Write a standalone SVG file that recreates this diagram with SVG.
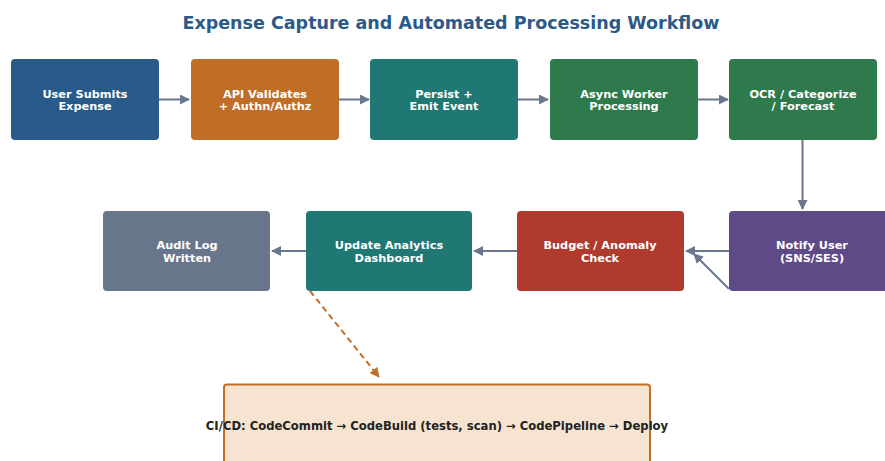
<svg xmlns="http://www.w3.org/2000/svg" width="885" height="461" viewBox="0 0 885 461">
<style>
.t{font-family:"DejaVu Sans",sans-serif;font-weight:bold;font-size:11.3px;fill:#ffffff;text-anchor:middle}
.title{font-family:"DejaVu Sans",sans-serif;font-weight:bold;font-size:17.5px;fill:#2A5A8A;text-anchor:middle}
.c{stroke:#6B778D;stroke-width:2;fill:none}
.d{stroke:#C06E28;stroke-width:2;fill:none;stroke-dasharray:6,4}
</style>
<defs>
<marker id="ag" viewBox="0 0 10 10" refX="9" refY="5" markerWidth="10" markerHeight="10" orient="auto" markerUnits="userSpaceOnUse">
<path d="M0,0 L10,5 L0,10 z" fill="#6B778D"/>
</marker>
<marker id="ao" viewBox="0 0 10 10" refX="9" refY="5" markerWidth="10" markerHeight="10" orient="auto" markerUnits="userSpaceOnUse">
<path d="M0,0 L10,5 L0,10 z" fill="#C06E28"/>
</marker>
</defs>
<rect width="885" height="461" fill="#ffffff"/>
<text class="title" x="451" y="29">Expense Capture and Automated Processing Workflow</text>
<g id="connectors">
<line class="c" x1="159" y1="99.5" x2="189" y2="99.5" marker-end="url(#ag)"/>
<line class="c" x1="339" y1="99.5" x2="369" y2="99.5" marker-end="url(#ag)"/>
<line class="c" x1="518" y1="99.5" x2="548" y2="99.5" marker-end="url(#ag)"/>
<line class="c" x1="698" y1="99.5" x2="728" y2="99.5" marker-end="url(#ag)"/>
<line class="c" x1="802.5" y1="140" x2="802.5" y2="209" marker-end="url(#ag)"/>
<line class="c" x1="729" y1="251" x2="686" y2="251" marker-end="url(#ag)"/>
<line class="c" x1="729" y1="289" x2="694" y2="254" marker-end="url(#ag)"/>
<line class="c" x1="517" y1="251" x2="474" y2="251" marker-end="url(#ag)"/>
<line class="c" x1="306" y1="251" x2="272" y2="251" marker-end="url(#ag)"/>
<line class="d" x1="310" y1="291" x2="379" y2="377" marker-end="url(#ao)"/>
</g>
<g id="n1"><rect x="11" y="59" width="148" height="81" rx="4" fill="#285A8A"/><text class="t" x="85" y="97.5">User Submits</text><text class="t" x="85" y="110">Expense</text></g>
<g id="n2"><rect x="191" y="59" width="148" height="81" rx="4" fill="#C06E25"/><text class="t" x="265" y="97.5">API Validates</text><text class="t" x="265" y="110">+ Authn/Authz</text></g>
<g id="n3"><rect x="370" y="59" width="148" height="81" rx="4" fill="#1F7874"/><text class="t" x="444" y="97.5">Persist +</text><text class="t" x="444" y="110">Emit Event</text></g>
<g id="n4"><rect x="550" y="59" width="148" height="81" rx="4" fill="#2E7A4C"/><text class="t" x="624" y="97.5">Async Worker</text><text class="t" x="624" y="110">Processing</text></g>
<g id="n5"><rect x="729" y="59" width="148" height="81" rx="4" fill="#2E7A4C"/><text class="t" x="803" y="97.5">OCR / Categorize</text><text class="t" x="803" y="110">/ Forecast</text></g>
<g id="n6"><rect x="729" y="211" width="166" height="80" rx="4" fill="#5E4A87"/><text class="t" x="812" y="249">Notify User</text><text class="t" x="812" y="262">(SNS/SES)</text></g>
<g id="n7"><rect x="517" y="211" width="167" height="80" rx="4" fill="#B03A2E"/><text class="t" x="600" y="249">Budget / Anomaly</text><text class="t" x="600" y="262">Check</text></g>
<g id="n8"><rect x="306" y="211" width="166" height="80" rx="4" fill="#1F7874"/><text class="t" x="389" y="249">Update Analytics</text><text class="t" x="389" y="262">Dashboard</text></g>
<g id="n9"><rect x="103" y="211" width="167" height="80" rx="4" fill="#68768C"/><text class="t" x="187" y="249">Audit Log</text><text class="t" x="187" y="262">Written</text></g>
<g id="n10"><rect x="224" y="384.5" width="426" height="90" rx="3" fill="#F6E4D0" stroke="#C06E28" stroke-width="2"/><text class="t" x="437" y="429.5" style="fill:#222222;font-size:11.6px">CI/CD: CodeCommit → CodeBuild (tests, scan) → CodePipeline → Deploy</text></g>
</svg>
